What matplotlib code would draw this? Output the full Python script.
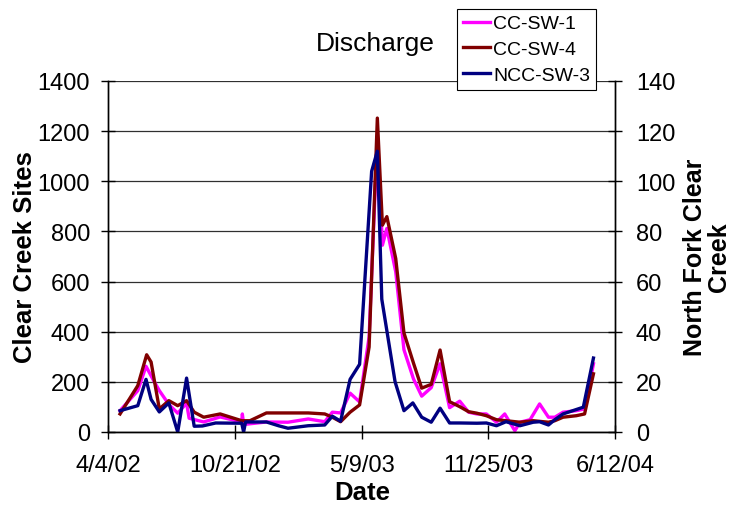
import pandas as pd
import matplotlib
matplotlib.use('Agg')
import matplotlib.pyplot as plt
import matplotlib.dates as mdates

plt.rcParams['font.family'] = ['Liberation Sans', 'DejaVu Sans']

# Abflussmessungen (Clear Creek links, North Fork rechts)
sw1_dates = ['4/23/02', '5/21/02', '6/3/02', '6/15/02', '6/24/02', '7/9/02', '7/23/02',
             '8/6/02', '8/10/02', '9/2/02', '9/28/02', '11/1/02', '11/2/02', '11/4/02',
             '12/10/02', '1/13/03', '2/14/03', '3/12/03', '3/24/03', '4/6/03', '4/21/03',
             '5/6/03', '5/21/03', '6/3/03', '6/11/03', '6/18/03', '7/2/03', '7/15/03',
             '7/30/03', '8/12/03', '8/27/03', '9/10/03', '9/25/03', '10/11/03', '10/25/03',
             '11/7/03', '11/22/03', '12/8/03', '12/21/03', '1/6/04', '1/14/04', '1/30/04',
             '2/14/04', '2/28/04', '3/9/04', '3/22/04', '4/12/04', '4/25/04', '5/9/04']
sw1_flow = [85, 165, 262, 205, 165, 110, 75,
            115, 55, 40, 60, 40, 72, 30,
            40, 39, 52, 41, 79, 76, 155,
            120, 379, 1180, 745, 812, 639, 328,
            212, 143, 177, 272, 97, 123, 79,
            72, 72, 39, 72, 5, 39, 49,
            112, 59, 59, 79, 85, 92, 272]

sw4_dates = ['4/23/02', '5/21/02', '6/4/02', '6/11/02', '6/24/02', '7/9/02', '7/23/02',
             '8/6/02', '8/18/02', '9/2/02', '9/28/02', '11/1/02', '11/14/02', '12/10/02',
             '1/13/03', '2/14/03', '3/12/03', '3/24/03', '4/6/03', '4/21/03', '5/6/03',
             '5/21/03', '6/3/03', '6/11/03', '6/18/03', '7/2/03', '7/15/03', '7/30/03',
             '8/12/03', '8/27/03', '9/10/03', '9/25/03', '10/11/03', '10/25/03', '11/7/03',
             '11/22/03', '12/8/03', '12/23/03', '1/14/04', '2/4/04', '2/28/04', '3/9/04',
             '3/22/04', '4/12/04', '4/25/04', '5/9/04']
sw4_flow = [72, 185, 308, 279, 92, 125, 105,
            125, 79, 59, 72, 45, 45, 76,
            76, 76, 72, 59, 41, 79, 108,
            339, 1252, 825, 859, 692, 395, 275,
            175, 190, 327, 121, 101, 81, 75,
            65, 49, 45, 39, 45, 39, 45,
            59, 65, 72, 232]

ncc_dates = ['4/23/02', '5/21/02', '6/3/02', '6/11/02', '6/24/02', '7/9/02', '7/23/02',
             '8/6/02', '8/18/02', '8/31/02', '9/21/02', '11/1/02', '11/4/02', '11/7/02',
             '12/10/02', '12/29/02', '1/13/03', '2/14/03', '3/12/03', '3/24/03', '4/6/03',
             '4/21/03', '5/6/03', '5/25/03', '6/3/03', '6/10/03', '7/1/03', '7/15/03',
             '7/29/03', '8/12/03', '8/27/03', '9/10/03', '9/25/03', '10/11/03', '11/7/03',
             '11/22/03', '12/8/03', '12/23/03', '1/14/04', '2/4/04', '2/14/04', '2/28/04',
             '3/9/04', '3/22/04', '4/23/04', '5/9/04']
ncc_flow = [8.5, 10.5, 21, 13, 8, 11.6, 0,
            21.5, 2.3, 2.4, 3.6, 3.5, 0, 4,
            4, 2.5, 1.5, 2.5, 2.8, 6.3, 4.3,
            21, 27, 104, 112, 53, 20, 8.5,
            11.6, 5.9, 3.9, 9.5, 3.6, 3.6, 3.5,
            3.6, 2.5, 4.1, 2.5, 3.9, 4.1, 2.8,
            4.9, 7.2, 9.9, 29.5]

x_ticks = ['4/4/02', '10/21/02', '5/9/03', '11/25/03', '6/12/04']
left_ticks = [0, 200, 400, 600, 800, 1000, 1200, 1400]
right_ticks = [0, 20, 40, 60, 80, 100, 120, 140]


def to_dates(strings):
    return pd.to_datetime(strings, format='%m/%d/%y')


fig = plt.figure(figsize=(7.33, 5.06), dpi=100)
W, H = 733, 506
ax = fig.add_axes([108 / W, 1 - 433 / H, (615 - 108) / W, (433 - 82) / H])
ax2 = ax.twinx()

ax.plot(to_dates(sw1_dates), sw1_flow, color='#FF00FF', lw=2.4, label='CC-SW-1')
ax.plot(to_dates(sw4_dates), sw4_flow, color='#800000', lw=2.4, label='CC-SW-4')
ax2.plot(to_dates(ncc_dates), ncc_flow, color='#000080', lw=2.4, label='NCC-SW-3')

# Achsen
tick_dates = to_dates(x_ticks)
ax.set_xlim(tick_dates[0], tick_dates[-1])
ax.set_xticks(tick_dates)
ax.set_xticklabels(x_ticks)
ax.set_ylim(0, 1400)
ax.set_yticks(left_ticks)
ax2.set_ylim(0, 140)
ax2.set_yticks(right_ticks)

for a in (ax, ax2):
    a.spines['top'].set_visible(False)
    for s in a.spines.values():
        s.set_linewidth(1.0)
ax.tick_params(axis='both', direction='inout', length=10, width=1.0, labelsize=17)
ax.tick_params(axis='x', pad=11)
ax.tick_params(axis='y', pad=8)
ax2.tick_params(axis='y', direction='inout', length=10, width=1.0, labelsize=17, pad=10)

ax.yaxis.grid(True, color='#303030', lw=0.9)
ax.set_axisbelow(True)

# Beschriftungen
fig.text(375 / W, 1 - 44 / H, 'Discharge', fontsize=19, ha='center', va='center')
fig.text(362 / W, 1 - 493 / H, 'Date', fontsize=18.5, fontweight='bold',
         ha='center', va='center')
fig.text(25 / W, 1 - 257 / H, 'Clear Creek Sites', fontsize=18.5, fontweight='bold',
         rotation=90, ha='center', va='center')
fig.text(707 / W, 1 - 257 / H, 'North Fork Clear\nCreek', fontsize=18,
         fontweight='bold', rotation=90, ha='center', va='center', linespacing=1.05)

# Legende
handles = ax.get_lines() + ax2.get_lines()
leg = fig.legend(handles, [h.get_label() for h in handles], loc='upper left',
                 bbox_to_anchor=(457 / W, 1 - 10 / H), bbox_transform=fig.transFigure,
                 fontsize=14, frameon=True, fancybox=False, framealpha=1,
                 edgecolor='black', handlelength=1.4, handletextpad=0.15,
                 labelspacing=0.42, borderpad=0.3, borderaxespad=0)
leg.get_frame().set_linewidth(0.8)

fig.savefig('out.png', dpi=100)
